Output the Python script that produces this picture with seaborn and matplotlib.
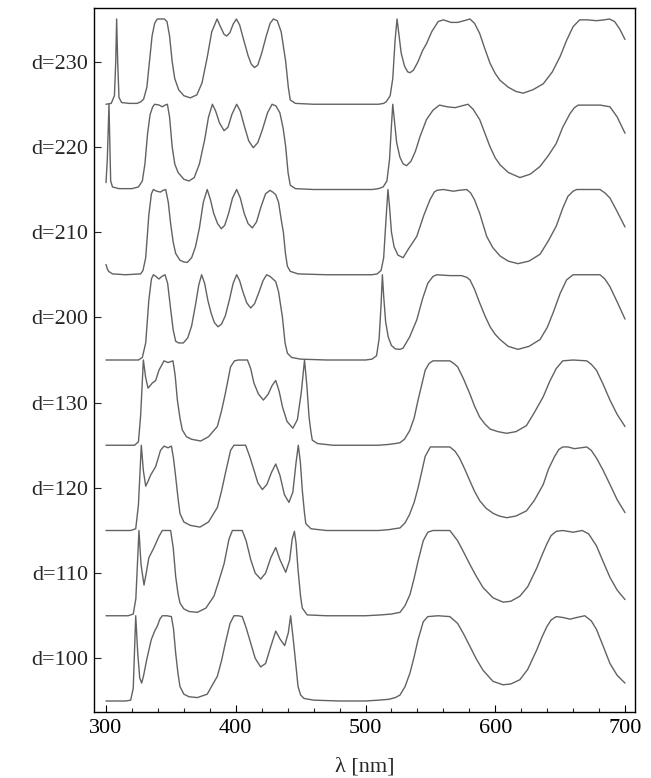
import numpy as np
import pandas as pd
import matplotlib
matplotlib.use("Agg")
import matplotlib.pyplot as plt
import seaborn as sns

labels = ["d=100", "d=110", "d=120", "d=130", "d=200", "d=210", "d=220", "d=230"]
x_ticks = [300, 400, 500, 600, 700]

x_d100 = [300, 315, 319, 321, 322.9, 324.5, 326, 327.5, 329, 331.3, 334.9, 337.5, 339.6, 341.5, 343.4, 347, 350.4, 352, 353.7, 355.5, 357, 360, 364, 370.4, 378, 385.8, 389, 392, 395.6, 398.6, 402, 405, 408, 411.5, 415, 419.2, 423, 427, 430.8, 434, 437.7, 440.5, 442.3, 444.9, 448, 450, 452.6, 460, 480, 500, 510, 518, 523, 526.6, 530.5, 534.3, 537.5, 540.5, 544.5, 548, 556, 565, 571, 575.5, 580.5, 585.5, 590.6, 598.3, 606, 612, 619, 625, 632, 636, 639.7, 643, 647, 652, 657.6, 663, 669, 674, 678, 683, 688.4, 694, 700]
y_d100 = [0.0, 0.0, 0.01, 0.15, 1.0, 0.55, 0.27, 0.21, 0.3, 0.48, 0.72, 0.82, 0.88, 0.96, 1.0, 1.0, 0.99, 0.85, 0.56, 0.32, 0.17, 0.08, 0.05, 0.04, 0.08, 0.29, 0.47, 0.68, 0.91, 1.0, 1.0, 0.99, 0.86, 0.68, 0.5, 0.4, 0.44, 0.64, 0.82, 0.73, 0.65, 0.8, 1.0, 0.64, 0.17, 0.07, 0.03, 0.01, 0.0, 0.0, 0.01, 0.02, 0.04, 0.07, 0.17, 0.33, 0.52, 0.72, 0.93, 0.99, 1.0, 0.99, 0.91, 0.79, 0.64, 0.49, 0.36, 0.23, 0.19, 0.2, 0.25, 0.37, 0.6, 0.75, 0.87, 0.95, 0.99, 0.98, 0.96, 0.98, 1.0, 0.94, 0.84, 0.65, 0.44, 0.3, 0.21]

x_d110 = [300, 317, 321, 323, 325.4, 327, 329.3, 331, 333, 337, 340.8, 343.4, 349.8, 351.8, 353.7, 355.5, 357, 360, 364, 370.4, 377, 383.2, 387, 391, 394.8, 397.4, 405, 408, 411.5, 415, 419.2, 423, 427, 430.8, 434, 438.5, 441.5, 443.5, 445.2, 446.5, 448, 450, 451.3, 455, 470, 500, 512, 520, 526.6, 530.5, 534.3, 537.5, 540.5, 544.5, 548, 552, 565, 571, 575.5, 580.5, 585.5, 590.6, 598.3, 606, 612, 619, 625, 632, 636, 639.7, 643, 647, 652, 660, 667, 672, 678, 683, 688.4, 694, 700]
y_d110 = [0.0, 0.0, 0.02, 0.2, 1.0, 0.6, 0.36, 0.5, 0.68, 0.8, 0.93, 1.0, 1.0, 0.8, 0.46, 0.26, 0.15, 0.08, 0.05, 0.04, 0.09, 0.23, 0.41, 0.61, 0.9, 1.0, 1.0, 0.88, 0.66, 0.5, 0.43, 0.5, 0.68, 0.8, 0.66, 0.51, 0.65, 0.9, 0.99, 0.85, 0.54, 0.22, 0.09, 0.01, 0.0, 0.0, 0.01, 0.02, 0.04, 0.12, 0.25, 0.44, 0.64, 0.88, 0.98, 1.0, 1.0, 0.88, 0.75, 0.6, 0.46, 0.33, 0.21, 0.16, 0.17, 0.23, 0.34, 0.56, 0.71, 0.84, 0.94, 0.99, 1.0, 0.98, 1.0, 0.96, 0.82, 0.64, 0.45, 0.3, 0.19]

x_d120 = [300, 319, 322.9, 325, 327.2, 328.8, 330.6, 332.5, 334.4, 338.3, 342, 344.7, 347.8, 350.4, 352, 353.7, 355.5, 357, 360, 365, 372.4, 379, 385.8, 389, 392, 396, 398.6, 407.6, 410.5, 414, 417, 420.5, 424, 427.5, 430.8, 434, 437.5, 441, 444, 446.5, 448.2, 449.8, 451.3, 453, 454, 458, 470, 510, 518, 522, 526.6, 530.5, 534, 537.5, 540.5, 543.5, 546, 550, 565, 569, 572.5, 576.5, 580.5, 584, 588, 593, 598.5, 603, 608.8, 616, 624, 630, 637, 641, 645.8, 649, 652, 656, 661, 666, 670.5, 674, 678, 683, 688.4, 694, 700]
y_d120 = [0.0, 0.0, 0.02, 0.3, 1.0, 0.7, 0.52, 0.58, 0.65, 0.75, 0.94, 0.99, 0.97, 0.99, 0.85, 0.63, 0.38, 0.2, 0.1, 0.06, 0.04, 0.1, 0.27, 0.46, 0.67, 0.94, 1.0, 1.0, 0.88, 0.71, 0.56, 0.48, 0.54, 0.68, 0.78, 0.65, 0.42, 0.33, 0.45, 0.8, 1.0, 0.8, 0.47, 0.2, 0.08, 0.02, 0.0, 0.0, 0.01, 0.02, 0.03, 0.09, 0.19, 0.33, 0.5, 0.7, 0.87, 0.98, 0.98, 0.93, 0.85, 0.72, 0.58, 0.46, 0.35, 0.26, 0.2, 0.17, 0.15, 0.17, 0.23, 0.35, 0.54, 0.72, 0.87, 0.95, 0.98, 0.98, 0.96, 0.97, 0.98, 0.94, 0.85, 0.71, 0.54, 0.36, 0.21]

x_d130 = [300, 322, 325, 326.7, 328.8, 330.5, 332.4, 335.7, 338.3, 340.8, 344.7, 347.8, 351.6, 353.3, 355, 357, 358.8, 362, 366, 373, 379, 385.8, 389, 392, 396, 399, 402, 409, 411.5, 414, 417.5, 421.3, 425, 428, 430.8, 433.5, 436, 439.5, 444, 447.5, 450.5, 453, 454.8, 456.5, 458, 459, 463, 475, 510, 518, 523, 526.6, 530, 534, 537.5, 540.5, 543.5, 546, 549, 552, 565, 568, 571, 575.5, 580.5, 584, 588, 592, 596, 602, 608.8, 616, 624, 630, 637, 642, 647, 652, 660, 670.5, 674, 678, 683, 688.4, 694, 700]
y_d130 = [0.0, 0.0, 0.04, 0.35, 1.0, 0.8, 0.67, 0.73, 0.76, 0.88, 0.99, 0.97, 0.99, 0.82, 0.53, 0.32, 0.18, 0.1, 0.07, 0.05, 0.1, 0.22, 0.4, 0.61, 0.92, 0.99, 1.0, 1.0, 0.9, 0.73, 0.6, 0.53, 0.6, 0.7, 0.76, 0.63, 0.45, 0.28, 0.2, 0.3, 0.62, 1.0, 0.7, 0.33, 0.15, 0.06, 0.02, 0.0, 0.0, 0.01, 0.02, 0.03, 0.07, 0.17, 0.32, 0.53, 0.72, 0.88, 0.96, 0.99, 0.99, 0.96, 0.92, 0.78, 0.6, 0.46, 0.33, 0.25, 0.19, 0.16, 0.14, 0.16, 0.23, 0.38, 0.57, 0.75, 0.9, 0.99, 1.0, 0.99, 0.95, 0.88, 0.72, 0.53, 0.36, 0.22]

x_d200 = [300, 325, 328, 330.6, 333, 335, 336.5, 338.5, 340.8, 343, 345.5, 347.5, 349.8, 351.8, 353.7, 356, 359.6, 363, 366, 369, 371.5, 373.7, 376, 378.5, 381, 383.5, 386.3, 389, 392, 395, 398, 400.7, 403, 405.5, 408.5, 411.5, 414.5, 418, 421, 423.8, 426.5, 430.8, 433, 436, 438, 439.8, 443, 450, 470, 500, 505, 508.5, 510.5, 512, 513, 514, 515.5, 517.5, 520, 523, 526.6, 529, 534, 539.5, 544, 548, 552, 555, 565, 574, 578, 580.5, 584, 588, 592, 596, 600, 603.7, 610, 617.5, 626, 634.5, 640, 644.5, 650, 655, 660, 670, 680.7, 684.5, 688.4, 694, 700]
y_d200 = [0.0, 0.0, 0.03, 0.2, 0.7, 0.95, 1.0, 0.98, 0.95, 0.98, 1.0, 0.9, 0.6, 0.35, 0.22, 0.2, 0.2, 0.26, 0.4, 0.65, 0.88, 1.0, 0.9, 0.7, 0.55, 0.44, 0.39, 0.42, 0.52, 0.7, 0.9, 1.0, 0.93, 0.8, 0.67, 0.61, 0.66, 0.8, 0.93, 1.0, 0.98, 0.92, 0.8, 0.5, 0.2, 0.08, 0.03, 0.01, 0.0, 0.0, 0.01, 0.05, 0.25, 0.65, 1.0, 0.75, 0.45, 0.27, 0.17, 0.13, 0.125, 0.14, 0.27, 0.47, 0.72, 0.9, 0.98, 1.0, 0.99, 0.99, 0.97, 0.94, 0.83, 0.67, 0.52, 0.39, 0.3, 0.24, 0.16, 0.125, 0.16, 0.24, 0.38, 0.55, 0.78, 0.94, 1.0, 1.0, 1.0, 0.95, 0.86, 0.68, 0.48]

x_d210 = [300, 301, 302, 305, 315, 326.7, 328.5, 330.6, 333, 335, 336.5, 339, 342, 344, 346, 348, 349.8, 351.8, 353.7, 357, 360, 362.7, 366, 369, 372, 375, 378, 380.5, 383, 386, 388.9, 391.5, 394.5, 397.5, 400.7, 403.5, 406.5, 409.5, 412.8, 416, 419.5, 423, 426.4, 428.5, 430.8, 433, 435, 436.7, 438.3, 439.8, 442, 448, 470, 505, 509, 512, 514, 515.8, 517.3, 518.5, 520, 522, 525, 529, 533, 539.5, 545, 549.7, 553, 555, 560, 567.6, 572, 578, 581, 584, 588, 593.4, 598, 603.7, 610, 617.5, 626, 634.5, 641, 647, 652, 656, 660, 662.8, 672, 680.7, 684.5, 688.4, 694, 700]
y_d210 = [0.12, 0.07, 0.04, 0.01, 0.0, 0.01, 0.05, 0.2, 0.7, 0.95, 1.0, 0.98, 0.97, 0.99, 1.0, 0.85, 0.6, 0.38, 0.25, 0.17, 0.15, 0.145, 0.2, 0.33, 0.55, 0.85, 1.0, 0.88, 0.72, 0.6, 0.54, 0.58, 0.72, 0.9, 1.0, 0.9, 0.72, 0.6, 0.55, 0.62, 0.8, 0.95, 0.99, 0.97, 0.94, 0.85, 0.65, 0.5, 0.25, 0.1, 0.04, 0.01, 0.0, 0.0, 0.01, 0.05, 0.2, 0.65, 1.0, 0.8, 0.5, 0.33, 0.23, 0.2, 0.3, 0.45, 0.7, 0.88, 0.97, 0.99, 1.0, 0.98, 0.99, 1.0, 0.96, 0.88, 0.72, 0.45, 0.32, 0.22, 0.16, 0.13, 0.16, 0.24, 0.4, 0.57, 0.78, 0.92, 0.98, 1.0, 1.0, 1.0, 0.96, 0.9, 0.74, 0.56]

x_d220 = [300, 301, 302.3, 303, 303.6, 305, 310, 320, 325, 328, 330, 332, 334, 336, 337.5, 341, 343.4, 345.5, 347.3, 349, 351, 353, 355.5, 360, 364, 368, 372, 376, 379, 382, 384.5, 387.5, 391, 394, 397, 400.7, 403.5, 406.5, 410, 413.5, 417, 420.5, 424.5, 428, 431, 434, 436.5, 438.5, 440.3, 442, 446, 460, 505, 510, 513.6, 516.5, 518.5, 520, 521, 522, 524, 526.5, 529, 531.7, 535, 538.5, 542, 547, 552, 557, 563, 569, 574, 579, 583, 588, 592, 596, 600, 603.7, 610, 619, 627, 634.5, 641, 647, 652, 657.6, 661, 664, 675, 681, 688.4, 694, 700]
y_d220 = [0.08, 0.35, 1.0, 0.5, 0.1, 0.03, 0.01, 0.01, 0.03, 0.1, 0.3, 0.65, 0.88, 0.97, 1.0, 0.99, 0.97, 0.99, 1.0, 0.85, 0.5, 0.3, 0.2, 0.12, 0.1, 0.14, 0.3, 0.58, 0.85, 1.0, 0.92, 0.78, 0.69, 0.73, 0.88, 1.0, 0.92, 0.75, 0.57, 0.49, 0.55, 0.7, 0.9, 1.0, 0.98, 0.9, 0.72, 0.5, 0.2, 0.05, 0.01, 0.0, 0.0, 0.01, 0.03, 0.1, 0.35, 0.75, 1.0, 0.85, 0.55, 0.38, 0.3, 0.28, 0.33, 0.45, 0.62, 0.82, 0.93, 0.99, 0.97, 0.96, 0.98, 1.0, 0.94, 0.82, 0.66, 0.5, 0.37, 0.29, 0.2, 0.14, 0.18, 0.27, 0.4, 0.54, 0.73, 0.89, 0.96, 0.99, 0.99, 0.99, 0.97, 0.85, 0.66]

x_d230 = [300, 304, 306.5, 307.5, 308.2, 309, 310, 312, 318, 324, 327, 329, 331.5, 333.5, 335.5, 337.5, 339.5, 345, 347, 349, 351, 353, 356, 360, 365, 370, 374, 378, 381.5, 385.6, 388.5, 391, 393, 395.5, 398, 400.5, 403, 406, 409.5, 412, 414.4, 417, 420, 423.5, 426.5, 429, 432, 435, 437, 438.5, 440.5, 442, 446, 460, 510, 514, 516, 519, 521, 522.8, 524.3, 525.5, 527.5, 530, 532.5, 534.3, 537, 540.5, 544, 547, 551, 556, 560, 566, 571, 576, 580.5, 584, 588, 592, 596, 600, 603.7, 610, 616, 621.5, 629, 637, 644, 650, 655, 660, 665, 671, 678, 684, 688, 692, 696, 700]
y_d230 = [0.0, 0.01, 0.1, 0.5, 1.0, 0.5, 0.08, 0.02, 0.01, 0.01, 0.03, 0.06, 0.2, 0.5, 0.8, 0.95, 1.0, 1.0, 0.97, 0.8, 0.5, 0.3, 0.17, 0.1, 0.075, 0.11, 0.25, 0.55, 0.85, 1.0, 0.9, 0.82, 0.8, 0.84, 0.94, 1.0, 0.93, 0.76, 0.57, 0.47, 0.43, 0.46, 0.6, 0.8, 0.95, 1.0, 0.98, 0.85, 0.65, 0.5, 0.2, 0.05, 0.01, 0.0, 0.0, 0.01, 0.03, 0.1, 0.3, 0.75, 1.0, 0.85, 0.6, 0.45, 0.38, 0.37, 0.4, 0.5, 0.63, 0.71, 0.85, 0.97, 0.99, 0.96, 0.96, 0.98, 1.0, 0.95, 0.83, 0.65, 0.48, 0.36, 0.28, 0.2, 0.15, 0.13, 0.17, 0.24, 0.38, 0.56, 0.75, 0.91, 0.99, 0.99, 0.98, 0.99, 1.0, 0.97, 0.88, 0.76]

curves = [(x_d100, y_d100), (x_d110, y_d110), (x_d120, y_d120), (x_d130, y_d130),
          (x_d200, y_d200), (x_d210, y_d210), (x_d220, y_d220), (x_d230, y_d230)]

sns.set_style("white")
plt.rcParams["font.family"] = ["Liberation Serif", "DejaVu Serif"]

fig = plt.figure(figsize=(6.51, 7.78), dpi=100)
ax = fig.add_axes([94 / 651, 66 / 778, 541 / 651, 704 / 778])

for i, (xs, ys) in enumerate(curves):
    df = pd.DataFrame({"x": xs, "y": np.asarray(ys) + i})
    sns.lineplot(data=df, x="x", y="y", ax=ax, color="#626262", lw=1.0,
                 sort=False, estimator=None)

ax.set_xlim(290.75, 707.7)
ax.set_ylim(-0.129, 8.129)
ax.set_xticks(x_ticks)
ax.set_xticks([v for v in range(320, 700, 20) if v % 100 != 0], minor=True)
ax.set_yticks([i + 0.5 for i in range(len(labels))])
ax.set_yticklabels(labels)
ax.tick_params(axis="x", which="major", direction="in", length=5, width=0.8,
               labelsize=16, pad=5, top=False, bottom=True, colors="black")
ax.tick_params(axis="x", which="minor", direction="in", length=3, width=0.8,
               top=False, bottom=True)
ax.tick_params(axis="y", direction="in", length=5, width=0.8, labelsize=16,
               pad=4, left=True, right=False)
ax.set_xlabel("λ [nm]", fontsize=16, labelpad=14)
ax.set_ylabel("")
for s in ax.spines.values():
    s.set_color("black")
    s.set_linewidth(1.0)

fig.savefig("out.png", dpi=100)
